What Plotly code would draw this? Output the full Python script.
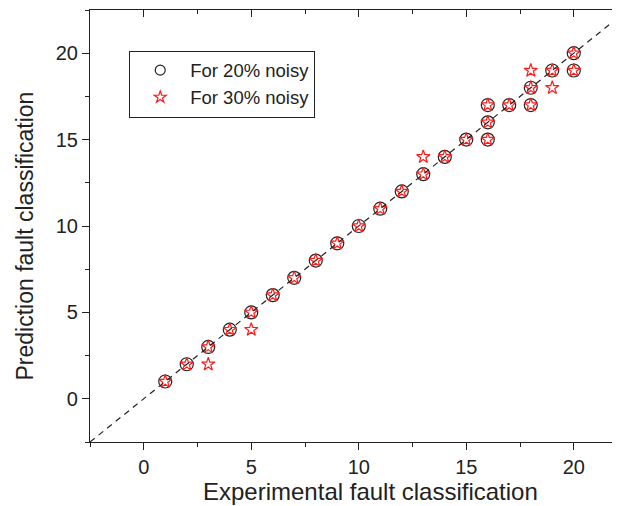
import plotly.graph_objects as go

# 20% noisy (circles)
exp_20 = [1, 2, 3, 4, 5, 6, 7, 8, 9, 10, 11, 12, 13, 14, 15, 16, 16, 16, 17, 18, 18, 19, 20, 20]
pred_20 = [1, 2, 3, 4, 5, 6, 7, 8, 9, 10, 11, 12, 13, 14, 15, 15, 16, 17, 17, 17, 18, 19, 19, 20]
# 30% noisy (stars)
exp_30 = [1, 2, 3, 3, 4, 5, 5, 6, 7, 8, 9, 10, 11, 12, 13, 13, 14, 15, 16, 16, 16, 17, 18, 18, 18, 19, 19, 20, 20]
pred_30 = [1, 2, 3, 2, 4, 5, 4, 6, 7, 8, 9, 10, 11, 12, 13, 14, 14, 15, 15, 16, 17, 17, 17, 18, 19, 19, 18, 19, 20]

x_range = [-2.5, 22.15]
y_range = [-2.5, 22.5]
diag = [-2.5, 22.5]
tick_vals = [0, 5, 10, 15, 20]
names = ["For 20% noisy", "For 30% noisy"]
x_title = "Experimental fault classification"
y_title = "Prediction fault classification"

FONT = "Liberation Sans, Arial, sans-serif"
TXT = "#222222"
RED = "#ff1a1a"

fig = go.Figure()
fig.add_trace(go.Scatter(x=diag, y=diag, mode="lines", xaxis="x2",
                         line=dict(color="#222222", width=1.2, dash="6px,5px"),
                         showlegend=False, hoverinfo="skip"))
fig.add_trace(go.Scatter(x=exp_20, y=pred_20, mode="markers", name=names[0], showlegend=False,
                         marker=dict(symbol="circle-open", size=13, color="#222222",
                                     line=dict(width=1.2))))
fig.add_trace(go.Scatter(x=exp_30, y=pred_30, mode="markers", name=names[1], showlegend=False,
                         marker=dict(symbol="star-open", size=10, color=RED,
                                     line=dict(width=1.2))))
# legend entries (smaller symbols, as in the reference legend)
fig.add_trace(go.Scatter(x=[None], y=[None], mode="markers", name=names[0],
                         marker=dict(symbol="circle-open", size=10, color="#222222",
                                     line=dict(width=1.2))))
fig.add_trace(go.Scatter(x=[None], y=[None], mode="markers", name=names[1],
                         marker=dict(symbol="star-open", size=9, color=RED,
                                     line=dict(width=1.2))))

axis_common = dict(showline=True, linecolor="#222222", linewidth=1.2, showgrid=False,
                   zeroline=False, tickcolor="#222222", tickwidth=1)

fig.update_layout(
    width=612, height=498,
    margin=dict(l=82, r=0, t=2, b=64),
    paper_bgcolor="white", plot_bgcolor="white",
    font=dict(family=FONT, color=TXT, size=19),
    xaxis=dict(range=x_range, tickvals=tick_vals, ticks="outside", ticklen=7,
               minor=dict(ticks="outside", ticklen=4, dtick=2.5, tick0=0, tickcolor="#222222"),
               tickfont=dict(size=20), **axis_common),
    xaxis2=dict(range=x_range, overlaying="x", side="top", tickvals=tick_vals, ticks="inside",
                ticklen=7, showticklabels=False,
                minor=dict(ticks="inside", ticklen=4, dtick=2.5, tick0=0, tickcolor="#222222"),
                **axis_common),
    yaxis=dict(range=y_range, tickvals=tick_vals, ticks="outside", ticklen=7,
               minor=dict(ticks="outside", ticklen=4, dtick=2.5, tick0=0, tickcolor="#222222"),
               tickfont=dict(size=20), **axis_common),
    legend=dict(x=0.074, y=0.906, xanchor="left", yanchor="top",
                bordercolor="#222222", borderwidth=1, bgcolor="white",
                font=dict(size=18.5), itemwidth=50, tracegroupgap=0),
    showlegend=True,
    annotations=[
        dict(text=x_title, xref="paper", yref="paper", x=0.530, y=-0.1157,
             xanchor="center", yanchor="middle", showarrow=False, font=dict(size=24)),
        dict(text=y_title, xref="paper", yref="paper", x=-0.1226, y=0.4757, textangle=-90,
             xanchor="center", yanchor="middle", showarrow=False, font=dict(size=23)),
    ],
)

fig.write_html("out.html")
